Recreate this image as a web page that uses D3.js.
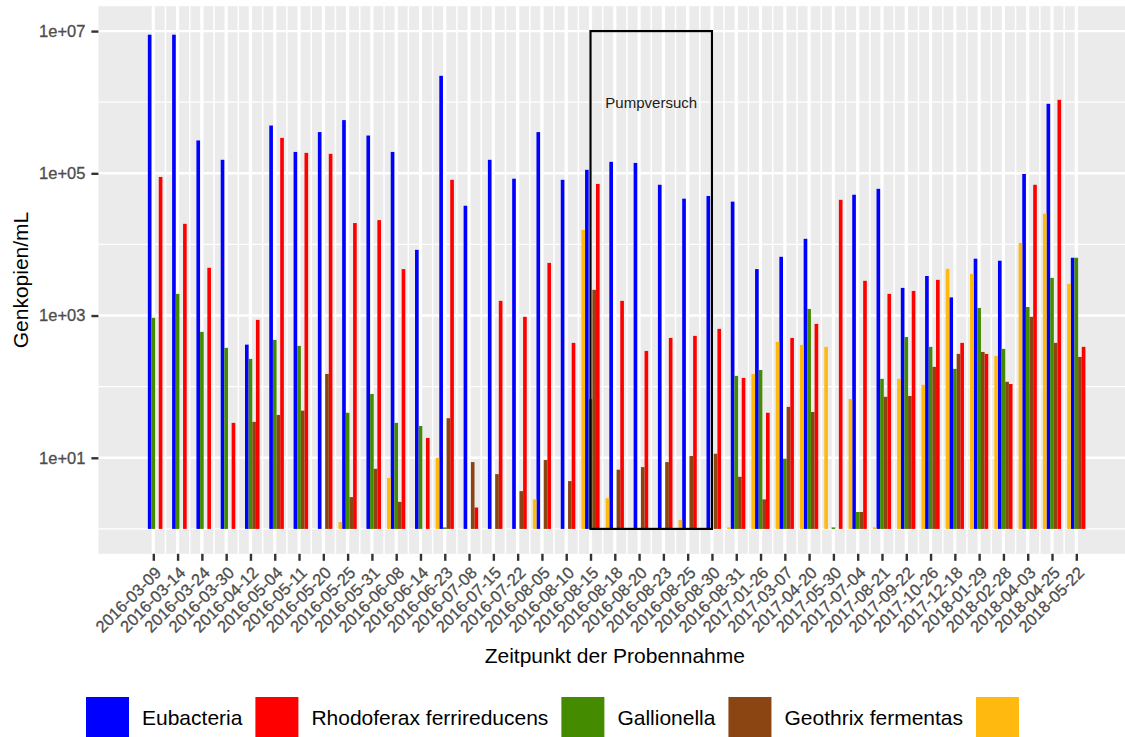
<html>
<head>
  <meta charset="utf-8">
  <script src="https://cdn.jsdelivr.net/npm/d3@7"></script>
  <style>
    body { margin: 0; background: #fff; }
    text { font-family: "Liberation Sans", Arial, sans-serif; }
  </style>
</head>
<body>
<div id="chart"></div>
<script>
// sampling dates (x categories)
const dates = ["2016-03-09","2016-03-14","2016-03-24","2016-03-30","2016-04-12","2016-05-04","2016-05-11",
  "2016-05-20","2016-05-25","2016-05-31","2016-06-08","2016-06-14","2016-06-23","2016-07-08","2016-07-15",
  "2016-07-22","2016-08-05","2016-08-10","2016-08-15","2016-08-18","2016-08-20","2016-08-23","2016-08-25",
  "2016-08-30","2016-08-31","2017-01-26","2017-03-07","2017-04-20","2017-05-30","2017-07-04","2017-08-21",
  "2017-09-22","2017-10-26","2017-12-18","2018-01-29","2018-02-28","2018-04-03","2018-04-25","2018-05-22"];

// gene copies / mL, null = no bar
const eubacteria = [8.9e6,8.9e6,2.9e5,1.55e5,390,4.7e5,2.0e5,3.8e5,5.6e5,3.4e5,2.0e5,8400,2.35e6,3.5e4,1.55e5,
  8.4e4,3.8e5,8.1e4,1.12e5,1.45e5,1.4e5,6.9e4,4.4e4,4.8e4,4.0e4,4500,6700,1.2e4,null,5.0e4,6.05e4,
  2450,3600,1800,6300,5900,9.8e4,9.5e5,6500];
const rhodoferax = [8.9e4,1.95e4,4700,31,870,3.15e5,1.94e5,1.88e5,2.0e4,2.2e4,4500,19,8.1e4,2.0,1610,
  960,5500,413,7.1e4,1610,318,485,518,650,133,43,485,764,4.24e4,3080,2020,
  2220,3180,413,289,109,6.9e4,1.08e6,363];
const gallionella = [930,2020,590,352,246,455,375,null,43,79,31,28,1.05,null,null,
  null,null,null,67,null,null,null,null,null,142,172,9.7,1240,1.05,1.73,129,
  500,363,178,1280,340,1320,3390,6500];
const geothrix = [null,null,null,null,32,40,46,151,2.8,7.0,2.4,null,36,8.7,5.9,
  3.4,9.3,4.7,2300,6.8,7.4,8.7,10.6,11.4,5.4,2.6,52,44,null,1.73,72,
  74,190,289,308,117,960,413,262];
const unnamed = [null,null,null,null,null,null,null,null,1.25,null,5.2,null,10,null,null,
  null,2.6,null,1.6e4,2.7,null,null,1.34,null,1.05,151,427,387,363,67,1.05,
  129,106,4540,3850,271,1.05e4,2.7e4,2790];

const seriesNames = ["Eubacteria","Rhodoferax ferrireducens","Gallionella","Geothrix fermentas",""];
const seriesValues = [eubacteria, rhodoferax, gallionella, geothrix, unnamed];
const seriesColors = ["#0000FF","#FF0000","#458B00","#8B4513","#FFB90F"];
// position inside each dodge group (left to right)
const dodgeOrder = [1, 4, 2, 3, 0];

const yTicks = [1e1, 1e3, 1e5, 1e7];
const yMinor = [1e0, 1e2, 1e4, 1e6];
const pump = {from: "2016-08-15", to: "2016-08-30", low: 1, high: 1e7, label: "Pumpversuch"};

const W = 1125, H = 737;
const svg = d3.select("#chart").append("svg").attr("width", W).attr("height", H);

const x = d3.scaleLinear().domain([0, dates.length - 1]).range([153.3, 1076.3]);
const y = d3.scaleLog().domain([Math.pow(10, -0.35), Math.pow(10, 7.35)]).range([553.8, 6.2]);
const unit = x(1) - x(0);
const left = x(-2.26), right = x(dates.length - 1 + 2.26);

// panel
svg.append("rect").attr("x", left).attr("y", y.range()[1])
  .attr("width", right - left).attr("height", y.range()[0] - y.range()[1])
  .attr("fill", "#EBEBEB");

const grid = svg.append("g").attr("stroke", "#fff");
grid.selectAll(".hmin").data(yMinor).join("line")
  .attr("x1", left).attr("x2", right).attr("y1", d => y(d)).attr("y2", d => y(d))
  .attr("stroke-width", 1.3);
grid.selectAll(".vmin").data(d3.range(dates.length - 1)).join("line")
  .attr("x1", d => x(d + 0.5)).attr("x2", d => x(d + 0.5))
  .attr("y1", y.range()[0]).attr("y2", y.range()[1]).attr("stroke-width", 1.5);
grid.selectAll(".hmaj").data(yTicks).join("line")
  .attr("x1", left).attr("x2", right).attr("y1", d => y(d)).attr("y2", d => y(d))
  .attr("stroke-width", 2.4);
grid.selectAll(".vmaj").data(d3.range(dates.length)).join("line")
  .attr("x1", d => x(d)).attr("x2", d => x(d))
  .attr("y1", y.range()[0]).attr("y2", y.range()[1]).attr("stroke-width", 3.2);

// bars
const groupW = 0.75 * unit, slot = groupW / 5;
const bars = [];
seriesValues.forEach((vals, s) => vals.forEach((v, i) => {
  if (v != null) bars.push({s, i, v});
}));
svg.append("g").selectAll("rect").data(bars).join("rect")
  .attr("x", d => x(d.i) - groupW / 2 + dodgeOrder[d.s] * slot)
  .attr("width", slot)
  .attr("y", d => y(Math.max(d.v, 1)))
  .attr("height", d => Math.abs(y(1) - y(d.v)))
  .attr("fill", d => seriesColors[d.s]);

// Pumpversuch box
const pi0 = dates.indexOf(pump.from), pi1 = dates.indexOf(pump.to);
svg.append("rect").attr("x", x(pi0)).attr("y", y(pump.high))
  .attr("width", x(pi1) - x(pi0)).attr("height", y(pump.low) - y(pump.high))
  .attr("fill", "none").attr("stroke", "#000").attr("stroke-width", 2.2);
svg.append("text").attr("x", (x(pi0) + x(pi1)) / 2).attr("y", y(1e6))
  .attr("dy", "0.36em").attr("text-anchor", "middle")
  .attr("font-size", 15).attr("fill", "#1a1a1a").text(pump.label);

// y axis
const yAxis = svg.append("g").attr("transform", `translate(${left},0)`)
  .call(d3.axisLeft(y).tickValues(yTicks).tickSize(7).tickPadding(6)
    .tickFormat(d => "1e+" + String(Math.round(Math.log10(d))).padStart(2, "0")));
yAxis.select(".domain").remove();
yAxis.selectAll(".tick line").attr("stroke", "#333").attr("stroke-width", 2.4);
yAxis.selectAll(".tick text").attr("fill", "#4D4D4D").attr("font-size", 16.5)
  .attr("font-family", "Liberation Sans, Arial, sans-serif")
  .attr("stroke", "#4D4D4D").attr("stroke-width", 0.3);

// x axis
const xAxis = svg.append("g").attr("transform", `translate(0,${y.range()[0]})`)
  .call(d3.axisBottom(x).tickValues(d3.range(dates.length)).tickSize(7).tickFormat(i => dates[i]));
xAxis.select(".domain").remove();
xAxis.selectAll(".tick line").attr("stroke", "#333").attr("stroke-width", 2.4);
xAxis.selectAll(".tick text").attr("fill", "#4D4D4D").attr("font-size", 16.5)
  .attr("font-family", "Liberation Sans, Arial, sans-serif")
  .attr("stroke", "#4D4D4D").attr("stroke-width", 0.3)
  .attr("text-anchor", "end").attr("dy", 0).attr("y", 0)
  .attr("transform", "translate(8.5,20) rotate(-45)");

// axis titles
svg.append("text").attr("x", (left + right) / 2).attr("y", 663)
  .attr("text-anchor", "middle").attr("font-size", 21).attr("fill", "#000")
  .text("Zeitpunkt der Probennahme");
svg.append("text").attr("transform", `translate(28,${(y.range()[0] + y.range()[1]) / 2}) rotate(-90)`)
  .attr("text-anchor", "middle").attr("font-size", 21).attr("fill", "#000")
  .text("Genkopien/mL");

// legend
const legend = svg.append("g");
let lx = 86;
seriesNames.forEach((name, s) => {
  legend.append("rect").attr("x", lx).attr("y", 697).attr("width", 43).attr("height", 45)
    .attr("fill", seriesColors[s]);
  lx += 43 + 13;
  const t = legend.append("text").attr("x", lx).attr("y", 725)
    .attr("font-size", 21).attr("fill", "#000").text(name);
  lx += t.node().getComputedTextLength() + 13;
});
</script>
</body>
</html>
